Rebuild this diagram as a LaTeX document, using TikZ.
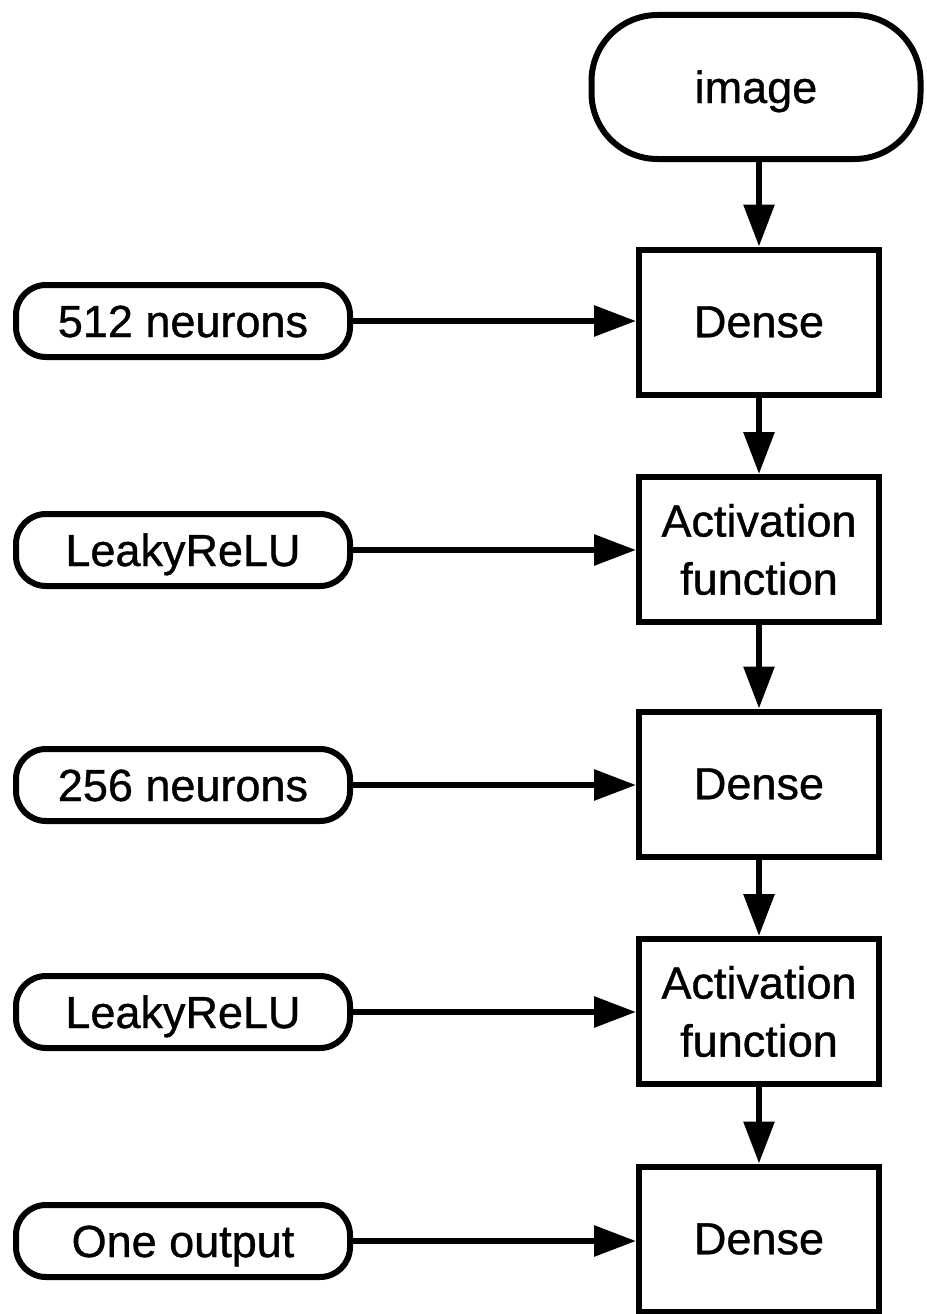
\documentclass[tikz,border=0pt]{standalone}
\usepackage{fontspec}
\setmainfont{Liberation Sans}
\newfontfamily\labelfont{Liberation Sans}[FakeBold=0.8]
\usetikzlibrary{arrows.meta}
\begin{document}
\begin{tikzpicture}[x=1pt,y=-1pt,
  every node/.style={font=\labelfont\fontsize{45}{58}\selectfont, inner sep=0pt,
    line width=6pt, draw, fill=white},
  stage/.style={minimum width=240pt, minimum height=145pt, align=center},
  param/.style={rounded corners=30pt, minimum width=334pt, minimum height=72pt,
    text height=32pt, text depth=0pt},
  terminal/.style={rounded corners=66pt, minimum width=329pt, minimum height=144pt,
    text height=32pt, text depth=0pt},
  flow/.style={line width=6pt, -{Triangle[width=30pt,length=42pt]}}]

\useasboundingbox (0,0) rectangle (926,1314);

% input
\node[terminal] (img) at (756,87) {image};

% network layers
\node[stage] (d1) at (759,322)    {Dense};
\node[stage] (a1) at (759,549.5)  {Activation\\function};
\node[stage] (d2) at (759,784)    {Dense};
\node[stage] (a2) at (759,1011.5) {Activation\\function};
\node[stage] (d3) at (759,1239)   {Dense};

% layer parameters
\node[param] (p1) at (183,321)  {512 neurons};
\node[param] (p2) at (183,550)  {LeakyReLU};
\node[param] (p3) at (183,785)  {256 neurons};
\node[param] (p4) at (183,1012) {LeakyReLU};
\node[param] (p5) at (183,1241) {One output};

% main flow
\draw[flow] (img.south -| d1.north) -- (d1.north);
\draw[flow] (d1) -- (a1);
\draw[flow] (a1) -- (d2);
\draw[flow] (d2) -- (a2);
\draw[flow] (a2) -- (d3);

% parameters into layers
\draw[flow] (p1) -- (p1 -| d1.west);
\draw[flow] (p2) -- (p2 -| a1.west);
\draw[flow] (p3) -- (p3 -| d2.west);
\draw[flow] (p4) -- (p4 -| a2.west);
\draw[flow] (p5) -- (p5 -| d3.west);
\end{tikzpicture}
\end{document}
